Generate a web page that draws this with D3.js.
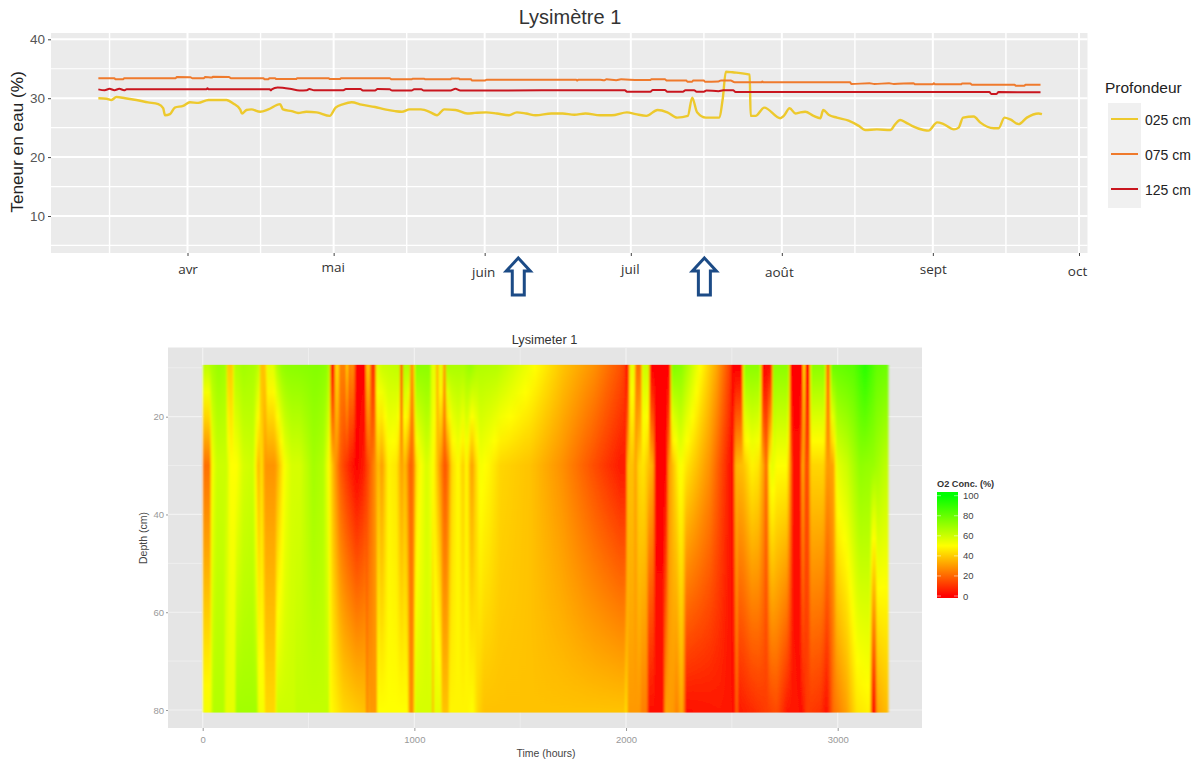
<!DOCTYPE html>
<html>
<head>
<meta charset="utf-8">
<script src="https://cdn.jsdelivr.net/npm/d3@7"></script>
<style>
body { margin: 0; background: #fff; }
svg { display: block; }
text { font-family: "Liberation Sans", Arial, sans-serif; }
</style>
</head>
<body>
<svg width="1202" height="760"></svg>
<script>
// water content, [days since 1 April, %]
const depth025 = [[-18.3,30.0],[-16.6,29.9],[-15.6,29.7],[-14.6,30.2],[-12.8,30.0],[-10.5,29.7],[-8.1,29.3],[-6,29.0],[-5,28.3],[-4.6,27.1],[-3.6,27.3],[-2.6,28.4],[-0.9,28.7],[0.5,29.3],[2.2,29.2],[4.3,29.7],[8,29.7],[9.4,29.1],[10.8,28.1],[11.2,27.4],[12.1,28.0],[13.1,28.1],[14.9,27.7],[16.6,28.1],[19,29.0],[19.6,28.1],[21.4,27.8],[22.7,27.5],[24.4,27.7],[26.5,27.6],[29.2,27.0],[30.4,28.4],[32,29.0],[33.7,29.3],[35.7,28.9],[38.5,28.5],[40.5,28.1],[42.6,27.8],[44,27.7],[45.6,28.1],[47.9,28.1],[49.9,27.6],[51.2,27.1],[52.7,28.1],[55.0,28.0],[57.4,27.4],[59,27.5],[61.3,27.6],[63.5,27.4],[66.0,27.1],[67.6,27.6],[69.5,27.4],[71.5,27.1],[74.7,27.4],[77,27.4],[79.4,27.2],[81.7,27.4],[84.7,27.1],[87.1,27.1],[90.2,27.6],[92,27.3],[94.2,27.0],[96.5,28.0],[98.5,27.6],[100.5,26.7],[102.7,27.0],[103.6,30.1],[104.6,27.6],[106.4,26.7],[109.1,26.7],[109.9,30.1],[110.5,34.5],[111.9,34.4],[115.4,34.0],[115.6,27.0],[116.6,27.0],[118.4,28.4],[121.7,26.6],[122.4,27.0],[123.6,28.3],[124.8,27.4],[125.8,27.6],[126.8,27.7],[128.5,27.0],[129.9,26.6],[130.5,28.0],[131.6,27.2],[133.3,26.7],[135.7,26.2],[137.8,25.3],[139.1,24.6],[141.5,24.7],[144.3,24.6],[145.3,25.6],[146.3,26.3],[147.4,25.9],[148.7,25.3],[151.1,24.6],[152.1,24.5],[153.9,25.9],[155.2,25.6],[157.3,24.7],[158.3,25.0],[159.2,26.7],[161.4,26.9],[162.7,25.9],[165.5,24.9],[166.5,24.9],[167.7,26.7],[168.9,26.4],[170.6,25.6],[172.3,26.7],[174.7,27.4],[175.4,27.3]];
const depth075 = [[-18.3,33.4],[-15,33.4],[-14.8,33.2],[-13.2,33.2],[-13,33.4],[-2.4,33.4],[-2.2,33.6],[0.6,33.55],[1,33.4],[3.4,33.4],[3.6,33.6],[5,33.5],[5.2,33.65],[8.5,33.6],[8.9,33.4],[15.6,33.4],[15.8,33.2],[16.6,33.2],[16.8,33.4],[18,33.4],[18.2,33.25],[22.3,33.25],[22.5,33.4],[29,33.4],[29.2,33.25],[31.3,33.25],[31.5,33.4],[41.5,33.4],[41.9,33.2],[46,33.2],[46.2,33.3],[48.6,33.3],[48.8,33.2],[54,33.2],[54.2,33.35],[55.7,33.35],[55.9,33.2],[58.2,33.2],[58.4,33.0],[61.1,33.0],[61.4,33.15],[79.8,33.15],[80,33.0],[80.2,33.15],[84.7,33.15],[85.5,33.05],[86,33.2],[88,33.05],[89,33.2],[92.6,33.1],[95,33.1],[95.2,33.2],[98,33.2],[98.4,33.0],[102.4,33.0],[102.6,32.8],[103.6,32.8],[103.8,33.0],[106,33.0],[106.2,32.8],[109,32.85],[109.5,33.0],[111.5,33.0],[112.3,32.7],[117.8,32.7],[118,32.85],[118.2,32.7],[136,32.7],[136.3,32.4],[140,32.55],[141,32.4],[144,32.55],[145,32.4],[149,32.55],[149.4,32.35],[153,32.35],[153.2,32.55],[153.5,32.35],[158.8,32.35],[159,32.5],[160.7,32.5],[161,32.3],[169.8,32.3],[170,32.1],[171.8,32.1],[172,32.3],[175.1,32.3]];
const depth125 = [[-18.3,31.5],[-17,31.35],[-16,31.6],[-15,31.35],[-14,31.6],[-13,31.35],[-12.5,31.5],[3.9,31.5],[4.1,31.7],[4.3,31.5],[16.9,31.5],[17.1,31.35],[17.3,31.5],[18.5,31.8],[21,31.6],[23,31.3],[24.5,31.35],[25,31.55],[26,31.35],[32,31.35],[32.5,31.55],[35.5,31.55],[36,31.3],[38.5,31.3],[39,31.55],[41.5,31.5],[42,31.3],[46,31.3],[46.5,31.5],[48,31.5],[48.5,31.3],[54,31.3],[55,31.6],[56,31.3],[84.7,31.35],[89.8,31.35],[90.2,31.1],[95,31.1],[95.5,31.4],[98,31.4],[98.5,31.1],[101.7,31.1],[102.2,31.35],[104,31.35],[104.5,31.1],[106,31.1],[106.5,31.3],[109,31.2],[110,31.35],[112,31.35],[112.5,31.05],[164.6,31.05],[165,30.7],[166,30.7],[166.5,31.05],[175.1,31.0]];

const seriesLabels = ["025 cm", "075 cm", "125 cm"];
const seriesColors = ["#edc92d", "#ef7a2c", "#c9161f"];
const waterTicks = [10, 20, 30, 40];
const waterMinorTicks = [5, 15, 25, 35];
const monthLabels = ["avr", "mai", "juin", "juil", "août", "sept", "oct"];
const monthStarts = [[3,1],[4,1],[5,1],[6,1],[7,1],[8,1],[9,1]];
const monthMids = [[2,16],[3,16],[4,16],[5,16],[6,16],[7,16],[8,16]];
const monthLabelShift = [0, -2, 3, 0, 3, 0, 2];
const monthLabelSlide = [0, -1, -1.5, -1, -3, 0, -2];
const arrowDays = [67.9, 106.1];

// O2 concentration, [hours, %], probes at 10, 30 and 80 cm
const o2At10 = [[0,62],[27,62],[42,66],[74,70],[105,68],[112,66],[115,40],[142,40],[148,64],[192,68],[247,66],[263,62],[270,58],[272,38],[295,38],[306,55],[334,55],[350,64],[373,70],[397,72],[476,73],[539,74],[586,72],[600,62],[605,5],[622,5],[627,42],[643,42],[647,25],[675,25],[680,42],[684,42],[688,25],[715,28],[722,0],[770,0],[773,38],[790,38],[795,10],[815,10],[820,55],[850,60],[930,62],[932,15],[945,15],[948,65],[978,65],[980,30],[998,30],[1003,72],[1074,72],[1082,55],[1102,55],[1104,35],[1113,35],[1116,55],[1135,55],[1137,30],[1147,30],[1150,66],[1232,66],[1263,70],[1295,65],[1390,64],[1547,52],[1704,38],[1850,28],[1972,16],[1995,12],[2000,3],[2011,3],[2019,55],[2038,55],[2046,22],[2070,22],[2079,60],[2106,60],[2114,0],[2208,0],[2216,75],[2263,72],[2350,50],[2429,32],[2492,12],[2504,0],[2547,0],[2558,72],[2633,72],[2645,0],[2689,5],[2696,72],[2767,72],[2778,0],[2835,0],[2839,50],[2843,50],[2846,3],[2866,3],[2874,72],[2941,72],[2945,22],[2961,22],[2969,78],[3075,82],[3130,92],[3185,80],[3236,78]];
const o2At30 = [[3,22],[35,22],[42,50],[66,60],[113,60],[129,50],[160,50],[192,58],[239,60],[263,35],[279,45],[294,29],[342,29],[365,40],[389,52],[420,58],[460,58],[523,68],[570,65],[593,52],[617,35],[649,18],[680,10],[727,0],[759,5],[790,18],[814,28],[830,38],[846,30],[877,48],[916,45],[940,30],[956,38],[979,18],[995,22],[1011,45],[1058,58],[1090,50],[1121,30],[1145,15],[1161,25],[1176,42],[1208,50],[1231,40],[1247,50],[1271,30],[1287,40],[1310,52],[1357,48],[1405,42],[1550,38],[1700,28],[1850,15],[1972,5],[2000,5],[2007,38],[2035,38],[2043,30],[2059,42],[2082,45],[2106,38],[2130,32],[2137,0],[2192,0],[2200,28],[2232,42],[2255,52],[2287,45],[2334,38],[2397,28],[2460,12],[2507,0],[2515,35],[2555,38],[2594,48],[2626,45],[2649,32],[2665,18],[2676,48],[2689,56],[2712,50],[2760,50],[2775,30],[2788,2],[2823,2],[2835,40],[2846,15],[2862,15],[2873,42],[2933,42],[2949,30],[2980,32],[2996,55],[3043,60],[3106,72],[3169,70],[3236,62]];
const o2At80 = [[0,52],[35,52],[50,65],[100,65],[110,55],[150,55],[160,68],[255,68],[265,52],[290,52],[295,42],[342,42],[350,60],[435,60],[440,62],[595,62],[600,50],[665,42],[760,38],[770,38],[773,25],[780,25],[786,42],[788,30],[822,30],[826,50],[970,50],[975,28],[997,28],[1002,58],[1082,58],[1085,35],[1090,35],[1093,55],[1125,55],[1130,38],[1160,38],[1165,48],[1250,48],[1275,50],[1300,42],[1330,38],[1972,38],[1995,38],[2000,48],[2010,30],[2066,30],[2074,25],[2098,25],[2106,3],[2177,3],[2185,32],[2224,30],[2240,25],[2263,35],[2274,25],[2282,3],[2444,5],[2515,3],[2523,25],[2531,5],[2665,12],[2712,15],[2760,5],[2830,3],[2854,12],[2917,10],[2949,3],[2980,22],[3043,32],[3090,45],[3153,48],[3161,10],[3169,3],[3177,0],[3185,32],[3240,38]];

const probeDepths = [10, 30, 80];
const hourTicks = [0, 1000, 2000, 3000];
const hourMinorTicks = [500, 1500, 2500];
const depthTicks = [20, 40, 60, 80];
const depthMinorTicks = [30, 50, 70];
const o2Ticks = [0, 20, 40, 60, 80, 100];

const svg = d3.select("svg");
const defs = svg.append("defs");

// ---- top chart ----
const topPanel = { left: 51, right: 1087.5, top: 33, bottom: 253 };
const dayDate = d => new Date(Date.UTC(2016, 3, 1) + d * 864e5);
const monthDate = m => new Date(Date.UTC(2016, m[0], m[1]));

const xTop = d3.scaleUtc()
    .domain([monthDate(monthStarts[0]), monthDate(monthStarts[6])])
    .range([187.5, 1079]);
const yTop = d3.scaleLinear().domain([10, 40]).range([216, 39.3]);

svg.append("rect")
    .attr("x", topPanel.left).attr("y", topPanel.top)
    .attr("width", topPanel.right - topPanel.left)
    .attr("height", topPanel.bottom - topPanel.top)
    .attr("fill", "#ebebeb");

const topGrid = svg.append("g").attr("stroke", "#fff");
topGrid.selectAll(".hmin").data(waterMinorTicks).enter().append("line")
    .attr("x1", topPanel.left).attr("x2", topPanel.right)
    .attr("y1", d => yTop(d)).attr("y2", d => yTop(d))
    .attr("stroke-width", 1.2);
topGrid.selectAll(".hmaj").data(waterTicks).enter().append("line")
    .attr("x1", topPanel.left).attr("x2", topPanel.right)
    .attr("y1", d => yTop(d)).attr("y2", d => yTop(d))
    .attr("stroke-width", 2);
topGrid.selectAll(".vmin").data(monthMids).enter().append("line")
    .attr("x1", d => xTop(monthDate(d))).attr("x2", d => xTop(monthDate(d)))
    .attr("y1", topPanel.top).attr("y2", topPanel.bottom)
    .attr("stroke-width", 1.4);
topGrid.selectAll(".vmaj").data(monthStarts).enter().append("line")
    .attr("x1", d => xTop(monthDate(d))).attr("x2", d => xTop(monthDate(d)))
    .attr("y1", topPanel.top).attr("y2", topPanel.bottom)
    .attr("stroke-width", 2);

const waterLine = d3.line()
    .x(d => xTop(dayDate(d[0])))
    .y(d => yTop(d[1]))
    .curve(d3.curveMonotoneX);

svg.selectAll(".water").data([depth025, depth075, depth125]).enter().append("path")
    .attr("class", "water")
    .attr("d", waterLine)
    .attr("fill", "none")
    .attr("stroke", (d, i) => seriesColors[i])
    .attr("stroke-width", (d, i) => i === 0 ? 2.4 : 2)
    .attr("stroke-linejoin", "round");

const yAxisTop = svg.append("g")
    .attr("transform", `translate(${topPanel.left},0)`)
    .call(d3.axisLeft(yTop).tickValues(waterTicks).tickSize(3).tickPadding(3));
yAxisTop.select(".domain").remove();
yAxisTop.selectAll("line").attr("stroke", "#444");
yAxisTop.selectAll("text").attr("font-size", 13.5).attr("fill", "#555");

const xAxisTop = svg.append("g")
    .attr("transform", `translate(0,${topPanel.bottom})`)
    .call(d3.axisBottom(xTop)
        .tickValues(monthStarts.map(monthDate))
        .tickFormat((d, i) => monthLabels[i])
        .tickSize(3).tickPadding(6));
xAxisTop.select(".domain").remove();
xAxisTop.selectAll("line").attr("stroke", "#444");
xAxisTop.selectAll("text")
    .attr("dx", (d, i) => monthLabelSlide[i])
    .attr("dy", (d, i) => 12 + monthLabelShift[i])
    .attr("font-size", 13.5)
    .attr("fill", "#333")
    .style("font-family", '"Open Sans", sans-serif');

svg.append("text").attr("x", 570).attr("y", 24).attr("text-anchor", "middle")
    .attr("font-size", 20).attr("fill", "#333").text("Lysimètre 1");
svg.append("text")
    .attr("transform", "translate(23,142) rotate(-90)")
    .attr("text-anchor", "middle").attr("font-size", 17.2).attr("fill", "#222")
    .text("Teneur en eau (%)");

// legend
svg.append("text").attr("x", 1105).attr("y", 93)
    .attr("font-size", 15.5).attr("fill", "#222").text("Profondeur");
const topLegend = svg.selectAll(".key").data(seriesLabels).enter().append("g")
    .attr("class", "key")
    .attr("transform", (d, i) => `translate(1108,${103 + i * 35})`);
topLegend.append("rect").attr("width", 33).attr("height", 35).attr("fill", "#f0f0f0");
topLegend.append("line")
    .attr("x1", 3).attr("x2", 30).attr("y1", 16).attr("y2", 16)
    .attr("stroke", (d, i) => seriesColors[i]).attr("stroke-width", 2);
topLegend.append("text").attr("x", 37).attr("y", 21.5)
    .attr("font-size", 14).attr("fill", "#222").text(d => d);

// arrows under the month axis
const arrow = "M0,0 L12,13 L6,13 L6,37 L-6,37 L-6,13 L-12,13 Z";
svg.selectAll(".arrow").data(arrowDays).enter().append("path")
    .attr("class", "arrow")
    .attr("d", arrow)
    .attr("transform", d => `translate(${xTop(dayDate(d))},258)`)
    .attr("fill", "#fff")
    .attr("stroke", "#1c4b86")
    .attr("stroke-width", 3);

// ---- bottom chart ----
const heatPanel = { left: 168, right: 922, top: 347.5, bottom: 728 };
const xHeat = d3.scaleLinear().domain([0, 3000]).range([202.7, 837.7]);
const yHeat = d3.scaleLinear().domain([20, 80]).range([416.7, 710]);
const o2Color = d3.scaleLinear()
    .domain([0, 50, 100])
    .range(["#ff0000", "#ffff00", "#00ff00"]);

svg.append("rect")
    .attr("x", heatPanel.left).attr("y", heatPanel.top)
    .attr("width", heatPanel.right - heatPanel.left)
    .attr("height", heatPanel.bottom - heatPanel.top)
    .attr("fill", "#e5e5e5");

const heatGrid = svg.append("g").attr("stroke", "#f2f2f2");
heatGrid.selectAll(".hh").data(depthTicks.concat(depthMinorTicks, [10])).enter().append("line")
    .attr("x1", heatPanel.left).attr("x2", heatPanel.right)
    .attr("y1", d => yHeat(d)).attr("y2", d => yHeat(d))
    .attr("stroke-width", d => d % 20 === 0 ? 1.2 : 0.7);
heatGrid.selectAll(".hv").data(hourTicks.concat(hourMinorTicks)).enter().append("line")
    .attr("x1", d => xHeat(d)).attr("x2", d => xHeat(d))
    .attr("y1", heatPanel.top).attr("y2", heatPanel.bottom)
    .attr("stroke-width", d => d % 1000 === 0 ? 1.2 : 0.7);

const probeScales = [o2At10, o2At30, o2At80].map(s =>
    d3.scaleLinear().domain(s.map(d => d[0])).range(s.map(d => d[1])).clamp(true));
const stopDepths = d3.range(10, 81, 5);

// one pixel wide column per step, each with its own vertical gradient
const heatLeft = Math.round(xHeat(0));
const heatRight = Math.round(xHeat(3236));
const heatTop = yHeat(9.4);
const heatBottom = yHeat(80.5);
const columns = d3.range(heatLeft, heatRight).map(px => {
    const hour = xHeat.invert(px + 0.5);
    const depthScale = d3.scaleLinear().domain(probeDepths).range(probeScales.map(s => s(hour)));
    return { px, stops: stopDepths.map(d => ({ depth: d, o2: depthScale(d) })) };
});

const grads = defs.selectAll("linearGradient.col").data(columns).enter().append("linearGradient")
    .attr("class", "col")
    .attr("id", d => `col${d.px}`)
    .attr("gradientUnits", "userSpaceOnUse")
    .attr("x1", 0).attr("x2", 0)
    .attr("y1", yHeat(10)).attr("y2", yHeat(80));
grads.selectAll("stop").data(d => d.stops).enter().append("stop")
    .attr("offset", d => (d.depth - 10) / 70)
    .attr("stop-color", d => o2Color(d.o2));

const soften = defs.append("filter").attr("id", "soften")
    .attr("x", "-2%").attr("y", "-2%").attr("width", "104%").attr("height", "104%");
soften.append("feGaussianBlur").attr("stdDeviation", "0.8 0.3");

svg.append("g").attr("filter", "url(#soften)")
    .selectAll("rect").data(columns).enter().append("rect")
    .attr("x", d => d.px)
    .attr("y", heatTop)
    .attr("width", 1.5)
    .attr("height", heatBottom - heatTop)
    .attr("fill", d => `url(#col${d.px})`);

const yAxisHeat = svg.append("g")
    .attr("transform", `translate(${heatPanel.left},0)`)
    .call(d3.axisLeft(yHeat).tickValues(depthTicks).tickSize(2).tickPadding(2));
yAxisHeat.select(".domain").remove();
yAxisHeat.selectAll("line").attr("stroke", "#999");
yAxisHeat.selectAll("text").attr("font-size", 9.5).attr("fill", "#999");

const xAxisHeat = svg.append("g")
    .attr("transform", `translate(0,${heatPanel.bottom})`)
    .call(d3.axisBottom(xHeat).tickValues(hourTicks).tickFormat(d3.format("d")).tickSize(3).tickPadding(5));
xAxisHeat.select(".domain").remove();
xAxisHeat.selectAll("line").attr("stroke", "#999");
xAxisHeat.selectAll("text").attr("font-size", 9.5).attr("fill", "#999");

svg.append("text").attr("x", 544.5).attr("y", 344).attr("text-anchor", "middle")
    .attr("font-size", 12.8).attr("fill", "#333").text("Lysimeter 1");
svg.append("text").attr("x", 546).attr("y", 757).attr("text-anchor", "middle")
    .attr("font-size", 10.5).attr("fill", "#444").text("Time (hours)");
svg.append("text")
    .attr("transform", "translate(147,538) rotate(-90)")
    .attr("text-anchor", "middle").attr("font-size", 10.5).attr("fill", "#444")
    .text("Depth (cm)");

// colour bar
const yBar = d3.scaleLinear().domain([0, 100]).range([596, 495.7]);
const barGrad = defs.append("linearGradient").attr("id", "bar")
    .attr("gradientUnits", "userSpaceOnUse")
    .attr("x1", 0).attr("x2", 0).attr("y1", yBar(0)).attr("y2", yBar(100));
barGrad.selectAll("stop").data(d3.range(0, 101, 25)).enter().append("stop")
    .attr("offset", d => d / 100)
    .attr("stop-color", d => o2Color(d));
svg.append("rect")
    .attr("x", 937).attr("y", 492).attr("width", 21).attr("height", 106)
    .attr("fill", "url(#bar)");
const barAxis = svg.append("g")
    .attr("transform", "translate(958,0)")
    .call(d3.axisRight(yBar).tickValues(o2Ticks).tickSize(0).tickPadding(5));
barAxis.select(".domain").remove();
barAxis.selectAll("text").attr("font-size", 9.5).attr("fill", "#444");
svg.selectAll(".barTick").data(o2Ticks).enter().append("line")
    .attr("class", "barTick")
    .attr("x1", 937).attr("x2", 958)
    .attr("y1", d => yBar(d)).attr("y2", d => yBar(d))
    .attr("stroke", "#fff").attr("stroke-width", 0.5).attr("stroke-dasharray", "4 13");
svg.append("text").attr("x", 937).attr("y", 487)
    .attr("font-size", 9.2).attr("font-weight", "bold").attr("fill", "#333")
    .text("O2 Conc. (%)");
</script>
</body>
</html>
